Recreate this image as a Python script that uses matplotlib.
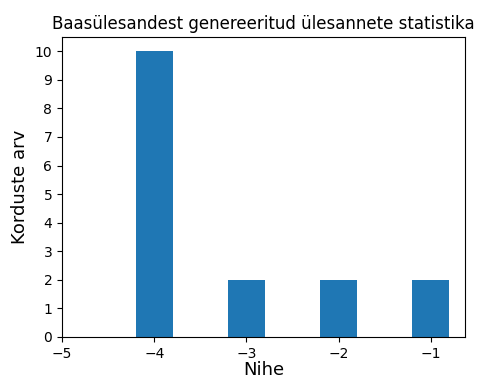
import matplotlib
matplotlib.use('Agg')
from matplotlib import pyplot as plt

nihe = [-4, -3, -2, -1]
kordused = [10, 2, 2, 2]

fig = plt.figure(figsize=(4.81, 3.76), dpi=100)
ax = fig.add_axes([62 / 481, 39 / 376, 403 / 481, 300 / 376])

ax.bar(nihe, kordused, width=0.4, color='C0')
ax.set_xlim(left=-5)
ax.set_xticks(range(-5, 0))
ax.set_yticks(range(0, 11))
ax.set_title('Baasülesandest genereeritud ülesannete statistika', fontsize=12)
ax.set_xlabel('Nihe', fontsize=13, labelpad=0)
ax.set_ylabel('Korduste arv', fontsize=13)

fig.savefig('out.png', dpi=100)
